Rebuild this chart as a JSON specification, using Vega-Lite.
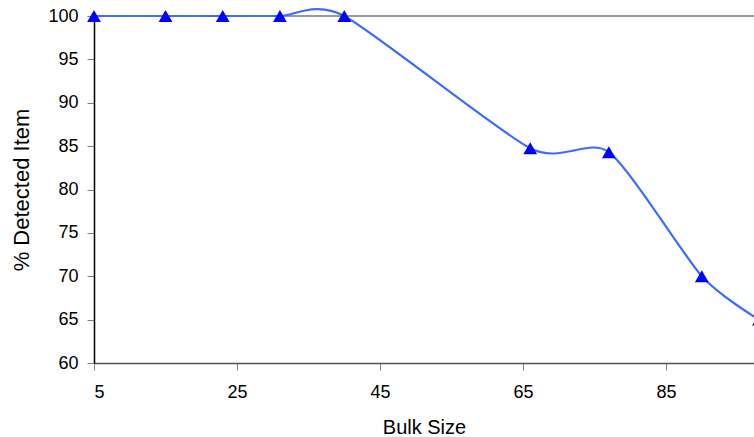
{
  "$schema": "https://vega.github.io/schema/vega-lite/v6.json",
  "autosize": {"type": "none"},
  "padding": {"left": 94, "top": 16, "right": 0, "bottom": 74},
  "width": 660,
  "height": 347,
  "background": "white",
  "config": {
    "view": {"stroke": null},
    "font": "Liberation Sans",
    "axis": {
      "labelFont": "Liberation Sans",
      "titleFont": "Liberation Sans",
      "labelColor": "black",
      "titleColor": "black",
      "titleFontWeight": "normal",
      "grid": false,
      "tickColor": "#808080",
      "tickSize": 7
    }
  },
  "data": {
    "values": [
      {"bulk": 5, "detected": 100},
      {"bulk": 15, "detected": 100},
      {"bulk": 23, "detected": 100},
      {"bulk": 31, "detected": 100},
      {"bulk": 40, "detected": 100},
      {"bulk": 66, "detected": 84.75},
      {"bulk": 77, "detected": 84.3},
      {"bulk": 90, "detected": 70},
      {"bulk": 98, "detected": 65}
    ]
  },
  "encoding": {
    "x": {
      "field": "bulk",
      "type": "quantitative",
      "scale": {"domain": [5, 97.3], "nice": false, "zero": false},
      "axis": {
        "title": "Bulk Size",
        "values": [5, 25, 45, 65, 85],
        "labelFontSize": 18,
        "labelPadding": 13,
        "titleFontSize": 20,
        "titlePadding": 16,
        "domainColor": "#505050",
        "domainWidth": 1.5
      }
    },
    "y": {
      "field": "detected",
      "type": "quantitative",
      "scale": {"domain": [60, 100], "nice": false, "zero": false},
      "axis": {
        "title": "% Detected Item",
        "values": [60, 65, 70, 75, 80, 85, 90, 95, 100],
        "labelFontSize": 18,
        "labelPadding": 9,
        "titleFontSize": 22,
        "titlePadding": 14,
        "domainColor": "black",
        "domainWidth": 1.5
      }
    }
  },
  "layer": [
    {
      "mark": {"type": "rule", "color": "#9a9a9a", "strokeWidth": 1.5},
      "encoding": {"x": {"value": 0}, "x2": {"value": 660}, "y": {"datum": 100}}
    },
    {
      "mark": {"type": "line", "interpolate": "cardinal", "tension": 0.3, "color": "#3d6bff", "strokeWidth": 2.2}
    },
    {
      "mark": {"type": "point", "shape": "triangle-up", "filled": true, "color": "#0000ff", "opacity": 1, "size": 190}
    }
  ]
}
